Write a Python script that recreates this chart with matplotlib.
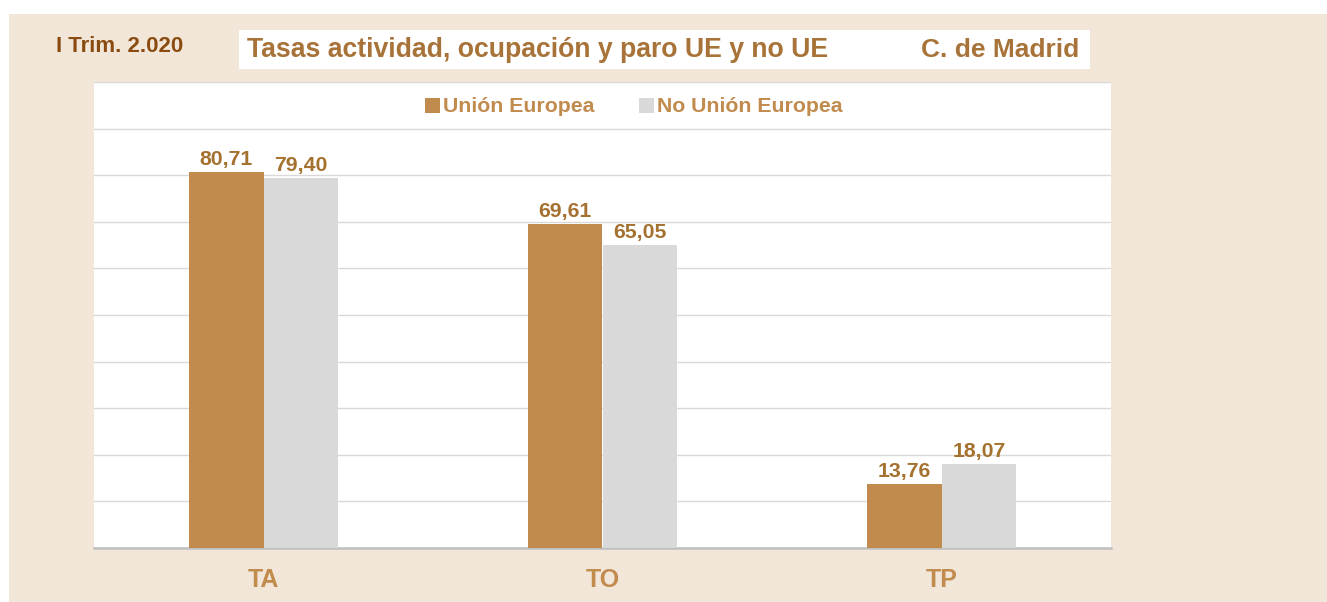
import matplotlib
matplotlib.use("Agg")
import matplotlib.pyplot as plt
from matplotlib.patches import Rectangle
import numpy as np

categories = ["TA", "TO", "TP"]
ue = [80.71, 69.61, 13.76]
no_ue = [79.40, 65.05, 18.07]
series_names = ["Unión Europea", "No Unión Europea"]
title_main = "Tasas actividad, ocupación y paro UE y no UE"
title_region = "C. de Madrid"
period = "I Trim. 2.020"

BEIGE = "#F2E6D9"
BROWN = "#C28B4E"
GRAY = "#D9D9D9"
LABEL = "#A5712F"
DARK = "#8A4B10"

plt.rcParams["font.family"] = ["Liberation Sans", "DejaVu Sans"]
plt.rcParams["font.weight"] = "bold"

W, H = 1327, 602
fig = plt.figure(figsize=(W / 100, H / 100), dpi=100, facecolor="white")

# beige background panel
fig.patches.append(Rectangle((9 / W, 0), 1 - 9 / W, (H - 14) / H,
                             transform=fig.transFigure, facecolor=BEIGE,
                             edgecolor="none", zorder=-2))
# white title box
fig.patches.append(Rectangle((239 / W, 1 - 69 / H), 851 / W, 39 / H,
                             transform=fig.transFigure, facecolor="white",
                             edgecolor="none", zorder=-1))
fig.text(247 / W, 1 - 50 / H, title_main, fontsize=19.2, fontweight="bold",
         color="#A87338", va="center", ha="left")
fig.text(921 / W, 1 - 50 / H, title_region, fontsize=19.0, fontweight="bold",
         color="#A87338", va="center", ha="left")
fig.text(56 / W, 1 - 47 / H, period, fontsize=16, fontweight="bold",
         color=DARK, va="center", ha="left")

ax = fig.add_axes([94 / W, 1 - 548 / H, (1111 - 94) / W, (548 - 82) / H])
ax.set_zorder(1)
ax.set_facecolor("white")

x = np.arange(len(categories))
bw = 0.221
b1 = ax.bar(x - bw / 2, ue, bw, color=BROWN, label=series_names[0], zorder=3)
b2 = ax.bar(x + bw / 2, no_ue, bw, color=GRAY, label=series_names[1], zorder=3)

for bars, vals in ((b1, ue), (b2, no_ue)):
    for rect, v in zip(bars, vals):
        ax.annotate(f"{v:.2f}".replace(".", ","),
                    (rect.get_x() + rect.get_width() / 2, rect.get_height()),
                    xytext=(0, 2), textcoords="offset points",
                    ha="center", va="bottom", fontsize=15.3,
                    fontweight="bold", color=LABEL, zorder=4)

ax.set_xlim(-0.5, 2.5)
ax.set_ylim(0, 100)
ax.set_yticks(np.arange(0, 101, 10))
ax.yaxis.grid(True, color="#D9D9D9", linewidth=1.0, zorder=0)
ax.set_axisbelow(True)
ax.tick_params(axis="y", left=False, labelleft=False)
ax.tick_params(axis="x", bottom=False, pad=11)
ax.set_xticks(x)
ax.set_xticklabels(categories, fontsize=18, fontweight="bold", color=BROWN)
for s in ("left", "right", "top"):
    ax.spines[s].set_visible(False)
ax.spines["bottom"].set_color("#BFBFBF")
ax.spines["bottom"].set_linewidth(1.8)

leg = ax.legend(loc="center", bbox_to_anchor=(540 / 1017, 1 - 25 / 466), ncol=2,
                frameon=False, fontsize=15.3, labelcolor=BROWN,
                handlelength=0.7, handleheight=0.7, handletextpad=0.15,
                columnspacing=2.1)
for t in leg.get_texts():
    t.set_fontweight("bold")

fig.savefig("out.png", dpi=100, facecolor=fig.get_facecolor())
